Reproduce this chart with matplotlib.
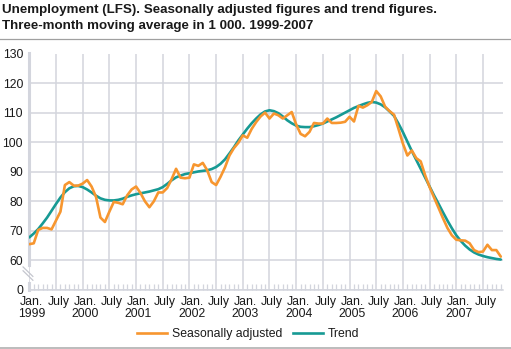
import numpy as np
import matplotlib
matplotlib.use("Agg")
import matplotlib.pyplot as plt
import matplotlib.transforms as mtransforms
from matplotlib.lines import Line2D

plt.rcParams['font.family'] = ['Liberation Sans', 'DejaVu Sans']

# Monthly figures, Jan. 1999 - Nov. 2007 (1 000 persons)
seasonally_adjusted = [
    65.5, 65.8, 70.3, 71.0, 71.0, 70.5, 73.5, 76.5, 85.5, 86.5, 85.3, 85.3,   # 1999
    86.0, 87.2, 85.0, 81.5, 74.5, 73.0, 76.5, 79.8, 79.5, 79.0, 82.0, 84.0,   # 2000
    85.0, 82.8, 80.0, 78.0, 80.0, 83.0, 83.0, 84.5, 87.5, 91.0, 88.0, 87.8,   # 2001
    88.0, 92.5, 92.0, 93.0, 90.5, 86.5, 85.5, 88.3, 91.5, 95.5, 98.0, 99.8,   # 2002
    102.3, 101.5, 104.5, 106.8, 108.7, 110.0, 108.0, 109.7, 109.1, 108.0, 109.1, 110.2,  # 2003
    106.0, 102.8, 102.0, 103.5, 106.5, 106.3, 106.3, 108.0, 106.5, 106.5, 106.6, 106.9,  # 2004
    108.6, 107.0, 112.3, 111.7, 112.5, 113.6, 117.3, 115.5, 112.0, 110.5, 109.3, 104.5,  # 2005
    99.5, 95.5, 97.2, 94.6, 93.5, 88.8, 84.8, 81.3, 77.8, 74.3, 71.0, 68.5,   # 2006
    67.0, 66.8, 66.7, 65.8, 63.5, 62.8, 63.0, 65.3, 63.5, 63.5, 61.3,         # 2007
]
trend = [
    67.8, 69.1, 70.6, 72.5, 74.5, 76.8, 79.1, 81.3, 83.1, 84.4, 85.1, 85.2,
    84.8, 84.0, 83.0, 81.9, 81.0, 80.5, 80.3, 80.3, 80.5, 80.9, 81.5, 82.0,
    82.4, 82.7, 83.0, 83.3, 83.7, 84.1, 84.8, 85.9, 87.1, 88.1, 88.7, 89.2,
    89.5, 89.8, 90.1, 90.3, 90.5, 90.9, 91.6, 92.7, 94.2, 96.2, 98.3, 100.6,
    102.6, 104.6, 106.4, 108.0, 109.4, 110.4, 110.8, 110.5, 109.8, 108.7, 107.4, 106.4,
    105.6, 105.2, 105.1, 105.1, 105.4, 105.8, 106.3, 107.0, 107.7, 108.4, 109.2, 110.0,
    110.8, 111.6, 112.2, 112.8, 113.3, 113.6, 113.4, 112.8, 111.8, 110.4, 108.9, 106.3,
    103.4, 100.2, 97.0, 94.0, 91.0, 88.0, 85.0, 82.0, 79.2, 76.3, 73.5, 70.9,
    68.5, 66.6, 65.0, 63.7, 62.7, 62.0, 61.5, 61.1, 60.8, 60.5, 60.3,
]
years = ['1999', '2000', '2001', '2002', '2003', '2004', '2005', '2006', '2007']
y_ticks = [50, 60, 70, 80, 90, 100, 110, 120, 130]
y_labels = ['0', '60', '70', '80', '90', '100', '110', '120', '130']

ORANGE = '#f7962f'
TEAL = '#179a94'
GRID = '#d3d5dd'
TXT = '#1a1a1a'
FS = 8.8

months = np.arange(len(trend))

fig = plt.figure(figsize=(5.11, 3.49), dpi=100)
ax = fig.add_axes([29.3 / 511, 1 - 290 / 349, (503 - 29.3) / 511, (290 - 53.5) / 349])

ax.plot(months, trend, color=TEAL, lw=1.9, solid_capstyle='round', zorder=3)
ax.plot(months, seasonally_adjusted, color=ORANGE, lw=1.9, solid_capstyle='round', zorder=4)

ax.set_xlim(0, 106.5)
ax.set_ylim(50, 130)

# x ticks: every half year, monthly minor ticks
major = np.arange(0, 103, 6)
xlabels = []
for i, m in enumerate(major):
    xlabels.append(f'Jan.\n{years[m // 12]}' if m % 12 == 0 else 'July')
ax.set_xticks(major)
ax.set_xticklabels(xlabels, fontsize=FS, color=TXT, linespacing=0.92, va='top')
ax.set_xticks(np.arange(0, 107), minor=True)
ax.tick_params(axis='x', which='major', length=0, pad=4.5)
ax.tick_params(axis='x', which='minor', direction='in', length=4, width=0.9, color=GRID)
shift = mtransforms.ScaledTranslation(2.5 / 100, 0, fig.dpi_scale_trans)
for lab in ax.get_xticklabels():
    lab.set_transform(lab.get_transform() + shift)

ax.set_yticks(y_ticks)
ax.set_yticklabels(y_labels, fontsize=FS, color=TXT)
ax.tick_params(axis='y', length=0, pad=4.5)

ax.grid(True, color=GRID, lw=1.1)
ax.set_axisbelow(True)
for s in ['top', 'right', 'left']:
    ax.spines[s].set_visible(False)
ax.spines['bottom'].set_color(GRID)
ax.spines['bottom'].set_linewidth(1.1)

# left axis with a break between 0 and 60
ax.plot([0, 0], [58.5, 130], color=GRID, lw=2.2, clip_on=False, zorder=2)
ax.plot([0, 0], [50, 52.5], color=GRID, lw=2.2, clip_on=False, zorder=2)
for dy in (0, 1.3):
    ax.plot([-1.4, 0.8], [57.8 - dy, 54.6 - dy], color='#c4c6ce', lw=0.9, clip_on=False)

# title and rules
fig.text(0.004, 1 - 12.5 / 349, 'Unemployment (LFS). Seasonally adjusted figures and trend figures.',
         fontsize=9.6, fontweight='bold', color=TXT, va='baseline')
fig.text(0.004, 1 - 28.5 / 349, 'Three-month moving average in 1 000. 1999-2007',
         fontsize=9.6, fontweight='bold', color=TXT, va='baseline')
fig.add_artist(Line2D([0, 1], [1 - 38.5 / 349] * 2, color='#a0a0a0', lw=0.9))
fig.add_artist(Line2D([0, 1], [1 - 348 / 349] * 2, color='#b0b0b0', lw=1.2))

handles = [Line2D([], [], color=ORANGE, lw=1.9), Line2D([], [], color=TEAL, lw=1.9)]
fig.legend(handles, ['Seasonally adjusted', 'Trend'], loc='center',
           bbox_to_anchor=(248 / 511, 1 - 334 / 349), ncol=2, frameon=False,
           fontsize=FS, handlelength=2.5, handletextpad=0.35, columnspacing=0.9,
           labelcolor=TXT)

fig.savefig('out.png', dpi=100)
